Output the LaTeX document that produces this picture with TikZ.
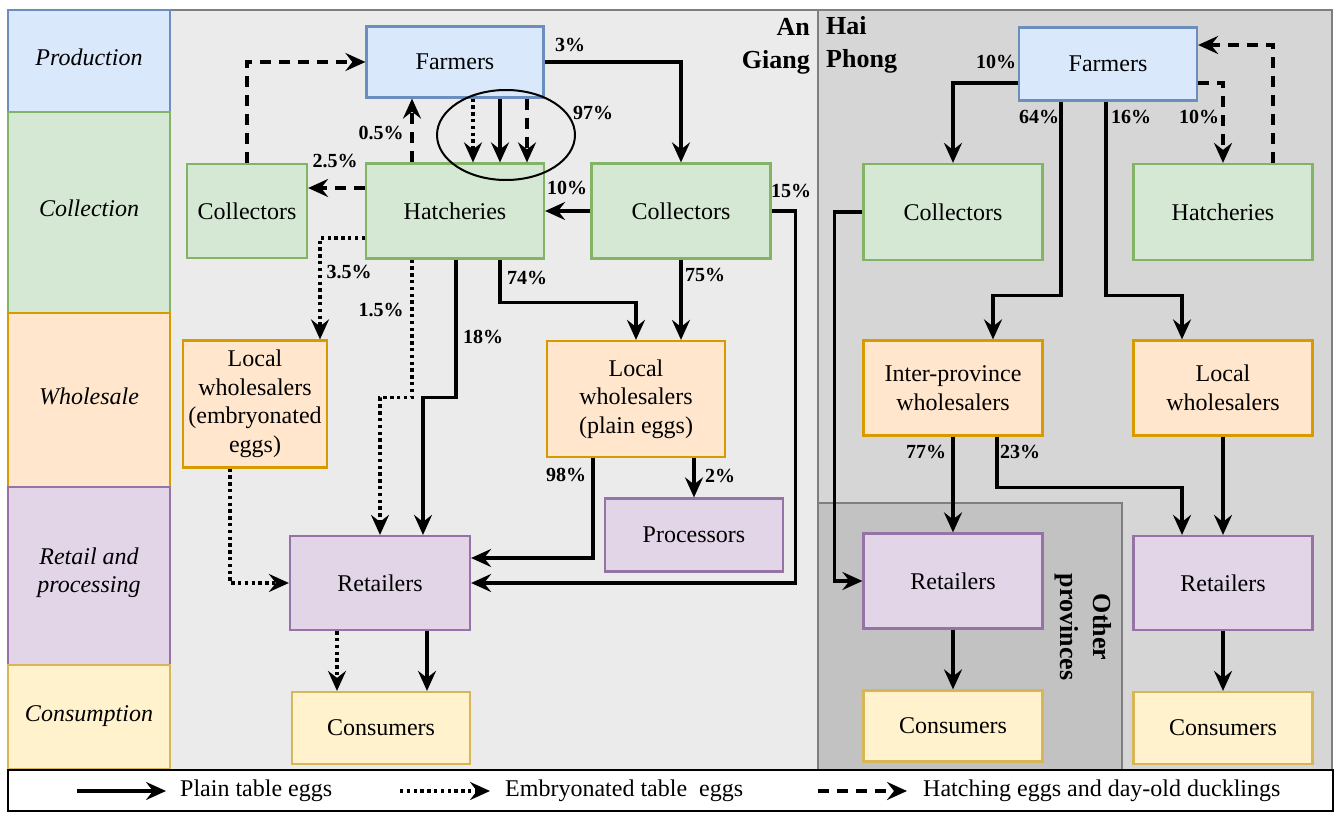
\documentclass[tikz,border=0pt]{standalone}
\usepackage{fontspec}
\setmainfont{Liberation Serif}
\usetikzlibrary{arrows.meta}
\definecolor{blueF}{HTML}{DAE8FC}\definecolor{blueD}{HTML}{6C8EBF}
\definecolor{greenF}{HTML}{D5E8D4}\definecolor{greenD}{HTML}{82B366}
\definecolor{orangeF}{HTML}{FFE6CC}\definecolor{orangeD}{HTML}{D79B00}
\definecolor{purpleF}{HTML}{E1D5E7}\definecolor{purpleD}{HTML}{9673A6}
\definecolor{yellowF}{HTML}{FFF2CC}\definecolor{yellowD}{HTML}{D6B656}
\definecolor{agbg}{HTML}{EBEBEB}\definecolor{hpbg}{HTML}{D6D6D6}
\definecolor{opbg}{HTML}{C2C2C2}\definecolor{frameg}{HTML}{7F7F7F}
\tikzset{
  box/.style={draw, line width=2.2pt, align=center, inner sep=0pt,
    font=\fontsize{24}{28.5}\selectfont},
  bluebox/.style={box, fill=blueF, draw=blueD},
  greenbox/.style={box, fill=greenF, draw=greenD},
  orangebox/.style={box, fill=orangeF, draw=orangeD},
  purplebox/.style={box, fill=purpleF, draw=purpleD},
  yellowbox/.style={box, fill=yellowF, draw=yellowD},
  stagebox/.style={draw, line width=2pt, inner sep=0pt, align=center,
    font=\fontsize{24}{28}\selectfont\itshape, minimum width=162pt},
  stagetext/.style={inner sep=0pt, align=center, font=\fontsize{24}{28}\selectfont\itshape},
  tip/.style={-{Stealth[length=20pt,width=18pt,inset=7pt]}},
  ar/.style={line width=3.4pt, tip},
  dotar/.style={line width=3.4pt, dash pattern=on 3.4pt off 3.4pt, tip},
  dashar/.style={line width=3.4pt, dash pattern=on 11pt off 8pt, tip},
  pct/.style={font=\fontsize{20}{22}\selectfont\bfseries, inner sep=0pt},
  region/.style={font=\fontsize{26}{33}\selectfont\bfseries, inner sep=0pt},
  legtext/.style={font=\fontsize{24}{26}\selectfont, anchor=west, inner sep=0pt}
}
\begin{document}
\begin{tikzpicture}[x=1pt,y=-1pt]
\useasboundingbox (0,0) rectangle (1336,813);
\fill[white] (0,0) rectangle (1336,813);
% region backgrounds
\fill[agbg] (170,10) rectangle (818,770);
\fill[hpbg] (818,10) rectangle (1332,770);
\draw[frameg, line width=2pt, fill=opbg] (818,503) rectangle (1122,770);
\draw[frameg, line width=2pt] (818,10) -- (818,770);
\draw[frameg, line width=2.4pt] (8,10) rectangle (1332,770);
% stage column
\node[stagebox, fill=blueF, draw=blueD, minimum height=102pt] (sProd) at (89,61) {};
\node[stagebox, fill=greenF, draw=greenD, minimum height=201pt] (sColl) at (89,212.5) {};
\node[stagebox, fill=orangeF, draw=orangeD, minimum height=174pt] (sWhole) at (89,400) {};
\node[stagebox, fill=purpleF, draw=purpleD, minimum height=178pt] (sRet) at (89,576) {};
\node[stagebox, fill=yellowF, draw=yellowD, minimum height=104pt] (sCons) at (89,717) {};
\node[stagetext] (tProd) at ([yshift=4pt]sProd.center) {Production};
\node[stagetext] (tColl) at ([yshift=4pt]sColl.center) {Collection};
\node[stagetext] (tWhole) at ([yshift=4pt]sWhole.center) {Wholesale};
\node[stagetext] (tRet) at ([yshift=3pt]sRet.center) {Retail and\\processing};
\node[stagetext] (tCons) at ([yshift=1pt]sCons.center) {Consumption};
% region labels
\node[region, align=right, anchor=north east] (agl) at (810,18) {An\\Giang};
\node[region, align=left, anchor=north west] (hpl) at (826,16) {Hai\\Phong};
\node[region, align=center, rotate=-90] (opl) at (1083,627) {Other\\provinces};
% ---------- An Giang nodes
\node[bluebox, minimum width=177pt, minimum height=71pt] (F1) at (455,62) {Farmers};
\node[greenbox, minimum width=120pt, minimum height=94pt] (C1L) at (247,211) {Collectors};
\node[greenbox, minimum width=178pt, minimum height=95pt] (H1) at (455,211) {Hatcheries};
\node[greenbox, minimum width=179pt, minimum height=95pt] (C1R) at (681,211) {Collectors};
\node[orangebox, minimum width=144pt, minimum height=127pt] (WE) at (255,404) {Local\\wholesalers\\(embryonated\\eggs)};
\node[orangebox, minimum width=178pt, minimum height=116pt] (WP) at (636,399) {Local\\wholesalers\\(plain eggs)};
\node[purplebox, minimum width=178pt, minimum height=73pt] (PR) at (694,535) {Processors};
\node[purplebox, minimum width=180pt, minimum height=94pt] (R1) at (380,583) {Retailers};
\node[yellowbox, minimum width=178pt, minimum height=72pt] (CO1) at (381,728) {Consumers};
% ---------- Hai Phong nodes
\node[bluebox, minimum width=178pt, minimum height=73pt] (F2) at (1108,64) {Farmers};
\node[greenbox, minimum width=179pt, minimum height=96pt] (C2) at (953,212) {Collectors};
\node[greenbox, minimum width=179pt, minimum height=96pt] (H2) at (1223,212) {Hatcheries};
\node[orangebox, minimum width=179pt, minimum height=95pt] (IW) at (953,388) {Inter-province\\wholesalers};
\node[orangebox, minimum width=179pt, minimum height=95pt] (LW) at (1223,388) {Local\\wholesalers};
\node[purplebox, minimum width=179pt, minimum height=95pt] (R2) at (953,581) {Retailers};
\node[purplebox, minimum width=179pt, minimum height=94pt] (R3) at (1223,583) {Retailers};
\node[yellowbox, minimum width=179pt, minimum height=71pt] (CO2) at (953,726) {Consumers};
\node[yellowbox, minimum width=179pt, minimum height=72pt] (CO3) at (1223,728) {Consumers};
% ---------- An Giang connectors
\draw[dotar] ([xshift=18pt]F1.south) -- ([xshift=18pt]H1.north);
\draw[ar] ([xshift=45pt]F1.south) -- ([xshift=45pt]H1.north);
\draw[dashar] ([xshift=72pt]F1.south) -- ([xshift=72pt]H1.north);
\draw[line width=2pt] (506,135) ellipse [x radius=69pt, y radius=45pt];
\draw[ar] (F1.east) -| (C1R.north);
\draw[ar] (C1R.west) -- (H1.east);
\draw[ar] (C1R.east) -- ++(24,0) |- (R1.east);
\draw[ar] (C1R.south) -- (C1R.south |- WP.north);
\draw[ar] ([xshift=45pt]H1.south) -- ++(0,43) -| (WP.north);
\draw[ar] ([xshift=1pt]H1.south) -- ++(0,138) -| ([xshift=43pt]R1.north);
\draw[dotar] ([xshift=-43pt]H1.south) -- ++(0,138) -| (R1.north);
\draw[dotar] ([yshift=-27pt]H1.west) -| ([xshift=65pt]WE.north);
\draw[dashar] ([yshift=23pt]H1.west) -- ([yshift=23pt]H1.west -| C1L.east);
\draw[dashar] ([xshift=-43pt]H1.north) -- ([xshift=-43pt]F1.south);
\draw[dashar] (C1L.north) |- (F1.west);
\draw[ar] ([xshift=-43pt]WP.south) |- ([yshift=25pt]R1.east);
\draw[ar] (PR.north |- WP.south) -- (PR.north);
\draw[dotar] ([xshift=-25pt]WE.south) |- (R1.west);
\draw[dotar] ([xshift=-43pt]R1.south) -- ([xshift=-43pt]R1.south |- CO1.north);
\draw[ar] ([xshift=47pt]R1.south) -- ([xshift=47pt]R1.south |- CO1.north);
% An Giang labels
\node[pct] (l3) at (570,45) {3\%};
\node[pct] (l97) at (593,113) {97\%};
\node[pct] (l10a) at (567,188) {10\%};
\node[pct] (l15) at (791,191) {15\%};
\node[pct] (l75) at (705,275) {75\%};
\node[pct] (l74) at (527,278) {74\%};
\node[pct] (l05) at (381,133) {0.5\%};
\node[pct] (l25) at (335,161) {2.5\%};
\node[pct] (l35) at (349,272) {3.5\%};
\node[pct] (l15b) at (381,310) {1.5\%};
\node[pct] (l18) at (483,337) {18\%};
\node[pct] (l98) at (566,475) {98\%};
\node[pct] (l2) at (720,476) {2\%};
% ---------- Hai Phong connectors
\draw[ar] ([yshift=-19pt]F2.west) -| (C2.north);
\draw[ar] ([xshift=-47pt]F2.south) -- ++(0,194) -| ([xshift=40pt]IW.north);
\draw[ar] ([xshift=-2pt]F2.south) -- ++(0,194) -| ([xshift=-41pt]LW.north);
\draw[dashar] ([yshift=-19pt]F2.east) -| (H2.north);
\draw[dashar] ([xshift=50pt]H2.north) |- ([yshift=19pt]F2.east);
\draw[ar] (C2.west) -- ++(-28,0) |- (R2.west);
\draw[ar] (IW.south) -- (R2.north);
\draw[ar] ([xshift=44pt]IW.south) -- ++(0,51) -| ([xshift=-41pt]R3.north);
\draw[ar] (LW.south) -- (R3.north);
\draw[ar] (R2.south) -- (CO2.north);
\draw[ar] (R3.south) -- (CO3.north);
% Hai Phong labels
\node[pct] (h10a) at (996,62) {10\%};
\node[pct] (h64) at (1039,117) {64\%};
\node[pct] (h16) at (1131,117) {16\%};
\node[pct] (h10b) at (1199,117) {10\%};
\node[pct] (h77) at (926,452) {77\%};
\node[pct] (h23) at (1020,452) {23\%};
% ---------- legend
\draw[black, line width=2.4pt, fill=white] (8,770) rectangle (1333,811);
\coordinate (a1s) at (77,791); \coordinate (a1e) at (166,791);
\coordinate (a2s) at (400,791); \coordinate (a2e) at (490,791);
\coordinate (a3s) at (818,791); \coordinate (a3e) at (907,791);
\draw[ar] (a1s) -- (a1e);
\draw[dotar] (a2s) -- (a2e);
\draw[dashar] (a3s) -- (a3e);
\node[legtext] (t1) at (180,791) {Plain table eggs};
\node[legtext] (t2) at (505,791) {Embryonated table\ \ eggs};
\node[legtext] (t3) at (923,791) {Hatching eggs and day-old ducklings};
\end{tikzpicture}
\end{document}
